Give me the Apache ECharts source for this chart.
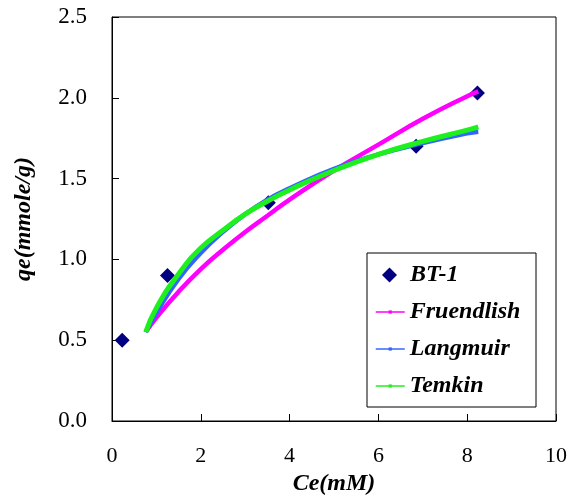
<!DOCTYPE html>
<html lang="en">
<head>
    <meta charset="UTF-8">
    <title>qe vs Ce</title>
    <style>
        html, body { margin: 0; padding: 0; background: #fff; }
        #chart { width: 573px; height: 496px; }
    </style>
</head>
<body>
<div id="chart"></div>
<script type="text/javascript" src="https://cdn.jsdelivr.net/npm/echarts@6/dist/echarts.min.js"></script>
<script type="text/javascript">
    // measured points (BT-1)
    var ceData = [0.23, 1.25, 3.52, 6.85, 8.23];
    var qeData = [0.50, 0.90, 1.35, 1.70, 2.03];

    // fitted curves
    var ceFit = [0.76, 1, 1.5, 2, 2.5, 3, 3.5, 4, 5, 6, 7, 8, 8.25];
    var fruendlish = [0.55, 0.64, 0.80, 0.94, 1.06, 1.17, 1.27, 1.37, 1.55, 1.71, 1.87, 2.01, 2.04];
    var langmuir = [0.55, 0.67, 0.88, 1.04, 1.17, 1.28, 1.37, 1.44, 1.56, 1.65, 1.72, 1.78, 1.79];
    var temkin = [0.55, 0.70, 0.91, 1.07, 1.18, 1.28, 1.36, 1.43, 1.55, 1.65, 1.73, 1.80, 1.82];

    var xTicks = [0, 10, 2];
    var yTicks = [0, 2.5, 0.5];

    var pairs = function (xs, ys) {
        var arr = [];
        for (var i = 0; i < xs.length; i++) {
            arr.push([xs[i], ys[i]]);
        }
        return arr;
    };

    var serif = 'Liberation Serif';
    var titleFont = {fontFamily: serif, fontSize: 24, fontWeight: 'bold', fontStyle: 'italic', color: '#000'};
    var myChart = echarts.init(document.getElementById('chart'), null, {renderer: 'canvas'});

    var lineSeries = function (name, ys, color, width) {
        return {
            name: name,
            type: 'line',
            data: pairs(ceFit, ys),
            smooth: true,
            showSymbol: false,
            symbol: 'rect',
            lineStyle: {color: color, width: width},
            itemStyle: {color: color}
        };
    };

    var option = {
        animation: false,
        grid: {
            left: 112, right: 17, top: 17, bottom: 75,
            outerBoundsMode: 'none',
            show: true, borderColor: '#000', borderWidth: 1
        },
        graphic: [{
            type: 'rect',
            shape: {x: 367, y: 253, width: 169, height: 154},
            style: {fill: '#fff', stroke: '#000', lineWidth: 1},
            z: 0
        }],
        legend: [{
            data: ['BT-1'],
            left: 382, top: 262,
            padding: 0,
            itemWidth: 15, itemHeight: 15,
            textStyle: {fontFamily: serif, fontSize: 24, fontWeight: 'bold', fontStyle: 'italic', color: '#000', lineHeight: 26, padding: [0, 0, 0, 8]}
        }, {
            data: ['Fruendlish', 'Langmuir', 'Temkin'],
            orient: 'vertical',
            left: 375, top: 299,
            padding: 0,
            itemGap: 11,
            itemWidth: 29, itemHeight: 4,
            lineStyle: {width: 1.5},
            textStyle: {fontFamily: serif, fontSize: 24, fontWeight: 'bold', fontStyle: 'italic', color: '#000', lineHeight: 26}
        }],
        xAxis: {
            type: 'value',
            min: xTicks[0], max: xTicks[1], interval: xTicks[2],
            name: 'Ce(mM)',
            nameLocation: 'middle',
            nameGap: 49,
            nameTextStyle: titleFont,
            axisLine: {lineStyle: {color: '#000', width: 1}},
            axisTick: {inside: true, length: 7, lineStyle: {color: '#000'}},
            axisLabel: {margin: 24, fontFamily: serif, fontSize: 22, color: '#000'},
            splitLine: {show: false}
        },
        yAxis: {
            type: 'value',
            min: yTicks[0], max: yTicks[1], interval: yTicks[2],
            name: 'qe(mmole/g)',
            nameLocation: 'middle',
            nameGap: 76,
            nameTextStyle: titleFont,
            axisLine: {lineStyle: {color: '#000', width: 1}},
            axisTick: {inside: true, length: 7, lineStyle: {color: '#000'}},
            axisLabel: {
                margin: 25, fontFamily: serif, fontSize: 23, color: '#000',
                formatter: function (v) { return v.toFixed(1); }
            },
            splitLine: {show: false}
        },
        series: [
            {
                name: 'BT-1',
                type: 'scatter',
                data: pairs(ceData, qeData),
                symbol: 'diamond',
                symbolSize: 15,
                itemStyle: {color: '#000080', opacity: 1}
            },
            lineSeries('Fruendlish', fruendlish, '#ff00ff', 4.5),
            lineSeries('Langmuir', langmuir, '#3366ff', 4.5),
            lineSeries('Temkin', temkin, '#1ef01e', 5)
        ]
    };

    myChart.setOption(option);
</script>
</body>
</html>
